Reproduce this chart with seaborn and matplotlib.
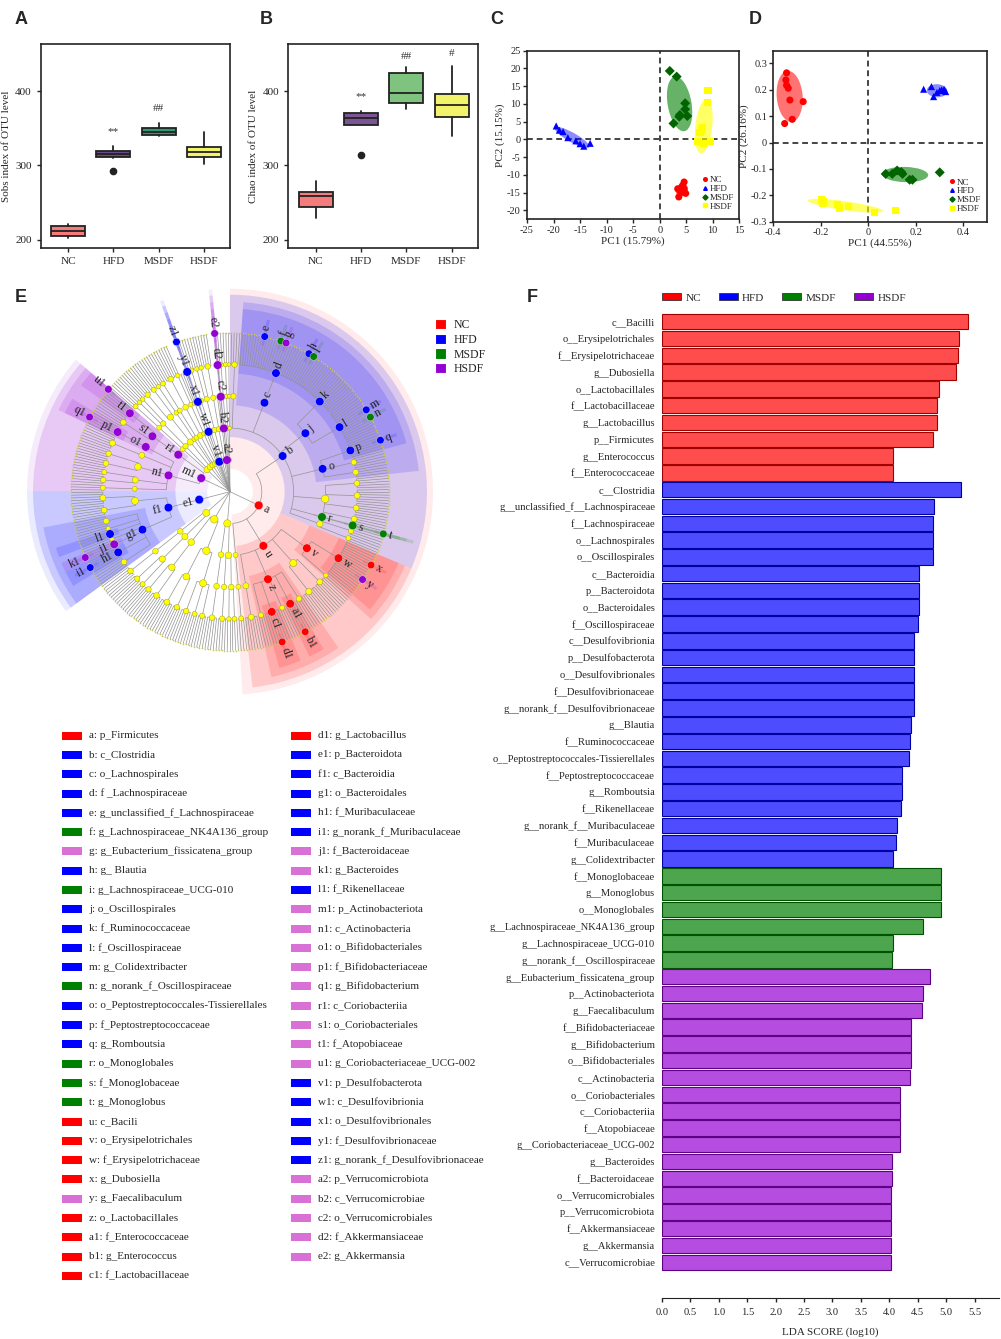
import numpy as np
import pandas as pd
import matplotlib
matplotlib.use("Agg")
import matplotlib.pyplot as plt
from matplotlib.patches import Wedge, Rectangle, Ellipse, Patch
from matplotlib.lines import Line2D
from matplotlib.collections import LineCollection
from matplotlib.ticker import FuncFormatter
import seaborn as sns

sns.set_theme(context="paper", style="ticks")
plt.rcParams["font.family"] = ["Liberation Serif", "DejaVu Serif"]
plt.rcParams["axes.unicode_minus"] = False
plt.rcParams["axes.linewidth"] = 1.2
plt.rcParams["axes.edgecolor"] = "#222222"
plt.rcParams["xtick.major.width"] = 1.0
plt.rcParams["ytick.major.width"] = 1.0
plt.rcParams["xtick.major.size"] = 3
plt.rcParams["ytick.major.size"] = 3
plt.rcParams["xtick.labelsize"] = 8
plt.rcParams["ytick.labelsize"] = 8

# ---------------- data ----------------
groups = ["NC", "HFD", "MSDF", "HSDF"]
group_colors = {"NC": "#FF0000", "HFD": "#0000FF", "MSDF": "#008000", "HSDF": "#9400D3"}

# A: Sobs index (box stats)
sobs_low = [201.8, 310.0, 340.0, 301.8]
sobs_q1 = [205.8, 311.2, 340.8, 311.2]
sobs_med = [211.7, 315.2, 345.3, 318.4]
sobs_q3 = [218.4, 319.7, 350.7, 325.1]
sobs_high = [221.5, 326.5, 356.5, 345.3]
sobs_out = [[], [292.4], [], []]
sobs_marks = ["", "**", "##", ""]
sobs_mark_y = [0, 345, 377, 0]

# B: Chao index
chao_low = [230.0, 354.3, 375.3, 339.5]
chao_q1 = [244.0, 354.3, 383.4, 365.5]
chao_med = [259.2, 363.2, 396.9, 380.7]
chao_q3 = [264.6, 370.0, 424.7, 395.5]
chao_high = [279.4, 373.0, 431.8, 434.0]
chao_out = [[], [313.5], [], []]
chao_marks = ["", "**", "##", "#"]
chao_mark_y = [0, 393, 447, 450]

# C: PCA
pca_x = {
    "NC": [4.6, 4.3, 3.4, 3.8, 4.2, 4.9, 3.6, 4.6],
    "HFD": [-19.5, -18.9, -18.2, -17.3, -15.8, -15.0, -14.3, -13.1],
    "MSDF": [1.9, 3.2, 4.8, 4.8, 3.8, 3.7, 5.2, 2.6],
    "HSDF": [9.1, 9.0, 8.1, 7.6, 7.2, 8.2, 9.5, 7.8],
}
pca_y = {
    "NC": [-12.0, -13.0, -13.9, -14.5, -14.9, -15.2, -16.2, -13.9],
    "HFD": [3.8, 2.6, 2.2, 0.5, -0.4, -1.2, -1.9, -1.1],
    "MSDF": [19.3, 17.7, 10.2, 8.5, 6.9, 6.4, 6.6, 4.5],
    "HSDF": [13.9, 10.3, 3.4, 2.0, -0.6, -1.1, -0.6, 2.8],
}

# D: PCoA
pcoa_x = {
    "NC": [-0.344, -0.347, -0.344, -0.337, -0.330, -0.274, -0.320, -0.352],
    "HFD": [0.234, 0.267, 0.276, 0.302, 0.320, 0.327, 0.290, 0.310],
    "MSDF": [0.074, 0.102, 0.122, 0.145, 0.175, 0.187, 0.302, 0.140],
    "HSDF": [-0.196, -0.192, -0.131, -0.122, -0.084, 0.028, 0.116, -0.190],
}
pcoa_y = {
    "NC": [0.264, 0.237, 0.217, 0.206, 0.161, 0.155, 0.088, 0.072],
    "HFD": [0.202, 0.212, 0.174, 0.197, 0.202, 0.193, 0.190, 0.200],
    "MSDF": [-0.119, -0.119, -0.106, -0.119, -0.141, -0.141, -0.113, -0.112],
    "HSDF": [-0.217, -0.229, -0.236, -0.248, -0.241, -0.264, -0.257, -0.225],
}

# E: cladogram taxonomy (newick-like; numbers = unlabelled leaves)
tree_phyla = [
    "a(b(_(_(4)),c(d(8,e,5,f,1,g,8,h,1,i,6)),j(k(13),l(7,m,2,n,5)),o(p(3,q,3),_(4),_(5)),"
    "_(_(5),_(6),_(5),_(5)),r(s(t)),_(_(4),_(3))),"
    "u(v(w(4,x,5,y,6),_(2)),_(_(6),_(7)),z(_(4),a1(2,b1,2),_(3),c1(3,d1,3),_(3)),_(_(6))),_(_(_(3))))",
    "_(_(_(_(3),_(2)),_(_(4))),_(_(_(5))))",
    "_(_(_(_(4),_(3),_(5)),_(_(4),_(6))),_(_(_(5),_(4))))",
    "_(_(_(_(3),_(4))),_(_(_(5))))",
    "e1(f1(g1(_(5),h1(2,i1,2),j1(1,k1,1),_(2),l1(3),_(2),_(5)),_(_(5),_(6))))",
    "m1(n1(_(_(3)),_(_(4),_(3)),_(_(5),_(4)),_(_(6)),o1(p1(2,q1,2))),r1(s1(_(5),t1(4,u1))))",
    "_(_(_(_(3))),_(_(_(2),_(2))))",
    "_(_(_(_(4),_(3))))",
    "_(_(_(_(2))),_(_(_(3))))",
    "_(_(_(_(5))))",
    "_(_(_(_(2))))",
    "_(_(_(3)))",
    "v1(w1(x1(y1(z1))))",
    "_(_(_(_(3))))",
    "_(_(_(_(2),_(2))))",
    "_(_(_(_(4))))",
    "_(_(2))",
    "a2(b2(c2(d2(e2))))",
    "_(_(_(_(2))))",
    "_(_(_(_(2))))",
    "_(_(_(_(1))))",
]

legend_codes = ["a", "b", "c", "d", "e", "f", "g", "h", "i", "j", "k", "l", "m", "n", "o",
                "p", "q", "r", "s", "t", "u", "v", "w", "x", "y", "z", "a1", "b1", "c1",
                "d1", "e1", "f1", "g1", "h1", "i1", "j1", "k1", "l1", "m1", "n1", "o1", "p1",
                "q1", "r1", "s1", "t1", "u1", "v1", "w1", "x1", "y1", "z1", "a2", "b2", "c2",
                "d2", "e2"]
legend_names = [
    "p_Firmicutes", "c_Clostridia", "o_Lachnospirales", "f _Lachnospiraceae",
    "g_unclassified_f_Lachnospiraceae", "g_Lachnospiraceae_NK4A136_group",
    "g_Eubacterium_fissicatena_group", "g_ Blautia", "g_Lachnospiraceae_UCG-010",
    "o_Oscillospirales", "f_Ruminococcaceae", "f_Oscillospiraceae", "g_Colidextribacter",
    "g_norank_f_Oscillospiraceae", "o_Peptostreptococcales-Tissierellales",
    "f_Peptostreptococcaceae", "g_Romboutsia", "o_Monoglobales", "f_Monoglobaceae",
    "g_Monoglobus", "c_Bacili", "o_Erysipelotrichales", "f_Erysipelotrichaceae",
    "g_Dubosiella", "g_Faecalibaculum", "o_Lactobacillales", "f_Enterococcaceae",
    "g_Enterococcus", "f_Lactobacillaceae",
    "g_Lactobacillus", "p_Bacteroidota", "c_Bacteroidia", "o_Bacteroidales",
    "f_Muribaculaceae", "g_norank_f_Muribaculaceae", "f_Bacteroidaceae", "g_Bacteroides",
    "f_Rikenellaceae", "p_Actinobacteriota", "c_Actinobacteria", "o_Bifidobacteriales",
    "f_Bifidobacteriaceae", "g_Bifidobacterium", "c_Coriobacteriia", "o_Coriobacteriales",
    "f_Atopobiaceae", "g_Coriobacteriaceae_UCG-002", "p_Desulfobacterota",
    "c_Desulfovibrionia", "o_Desulfovibrionales", "f_Desulfovibrionaceae",
    "g_norank_f_Desulfovibrionaceae", "p_Verrucomicrobiota", "c_Verrucomicrobiae",
    "o_Verrucomicrobiales", "f_Akkermansiaceae", "g_Akkermansia",
]
legend_groups = (["NC"] + ["HFD"] * 4 + ["MSDF", "HSDF", "HFD", "MSDF"] + ["HFD"] * 4
                 + ["MSDF"] + ["HFD"] * 3 + ["MSDF"] * 3 + ["NC"] * 4 + ["HSDF"]
                 + ["NC"] * 5 + ["HFD"] * 5 + ["HSDF"] * 2 + ["HFD"] + ["HSDF"] * 9
                 + ["HFD"] * 5 + ["HSDF"] * 5)

# F: LDA scores
lda_nc_taxa = ["c__Bacilli", "o__Erysipelotrichales", "f__Erysipelotrichaceae", "g__Dubosiella",
               "o__Lactobacillales", "f__Lactobacillaceae", "g__Lactobacillus", "p__Firmicutes",
               "g__Enterococcus", "f__Enterococcaceae"]
lda_nc_score = [5.38, 5.22, 5.21, 5.18, 4.87, 4.84, 4.84, 4.77, 4.06, 4.06]
lda_hfd_taxa = ["c__Clostridia", "g__unclassified_f__Lachnospiraceae", "f__Lachnospiraceae",
                "o__Lachnospirales", "o__Oscillospirales", "c__Bacteroidia", "p__Bacteroidota",
                "o__Bacteroidales", "f__Oscillospiraceae", "c__Desulfovibrionia",
                "p__Desulfobacterota", "o__Desulfovibrionales", "f__Desulfovibrionaceae",
                "g__norank_f__Desulfovibrionaceae", "g__Blautia", "f__Ruminococcaceae",
                "o__Peptostreptococcales-Tissierellales", "f__Peptostreptococcaceae",
                "g__Romboutsia", "f__Rikenellaceae", "g__norank_f__Muribaculaceae",
                "f__Muribaculaceae", "g__Colidextribacter"]
lda_hfd_score = [5.26, 4.79, 4.76, 4.76, 4.76, 4.52, 4.52, 4.52, 4.50, 4.43, 4.43, 4.43,
                 4.43, 4.43, 4.39, 4.37, 4.34, 4.22, 4.22, 4.20, 4.14, 4.11, 4.07]
lda_msdf_taxa = ["f__Monoglobaceae", "g__Monoglobus", "o__Monoglobales",
                 "g__Lachnospiraceae_NK4A136_group", "g__Lachnospiraceae_UCG-010",
                 "g__norank_f__Oscillospiraceae"]
lda_msdf_score = [4.91, 4.91, 4.91, 4.60, 4.06, 4.05]
lda_hsdf_taxa = ["g__Eubacterium_fissicatena_group", "p__Actinobacteriota", "g__Faecalibaculum",
                 "f__Bifidobacteriaceae", "g__Bifidobacterium", "o__Bifidobacteriales",
                 "c__Actinobacteria", "o__Coriobacteriales", "c__Coriobacteriia",
                 "f__Atopobiaceae", "g__Coriobacteriaceae_UCG-002", "g__Bacteroides",
                 "f__Bacteroidaceae", "o__Verrucomicrobiales", "p__Verrucomicrobiota",
                 "f__Akkermansiaceae", "g__Akkermansia", "c__Verrucomicrobiae"]
lda_hsdf_score = [4.71, 4.59, 4.58, 4.38, 4.38, 4.38, 4.37, 4.19, 4.19, 4.18, 4.18, 4.04,
                  4.04, 4.03, 4.03, 4.03, 4.03, 4.03]

# ---------------- figure ----------------
W, H = 1001, 1339
fig = plt.figure(figsize=(W / 100, H / 100), dpi=100)


def box(l, t, r, b):
    return [l / W, 1 - b / H, (r - l) / W, (b - t) / H]


def boxpanel(ax, low, q1, med, q3, high, out, colors, marks, mark_y, ylabel):
    stats = [dict(whislo=low[i], q1=q1[i], med=med[i], q3=q3[i], whishi=high[i],
                  fliers=out[i], label=groups[i]) for i in range(4)]
    line = dict(color="#222222", linewidth=1.3)
    bp = ax.bxp(stats, positions=range(4), widths=0.75, patch_artist=True, showcaps=False,
                boxprops=dict(edgecolor="#222222", linewidth=1.3), medianprops=line,
                whiskerprops=line,
                flierprops=dict(marker="o", markerfacecolor="#222222",
                                markeredgecolor="#222222", markersize=4.5))
    for patch, c in zip(bp["boxes"], colors):
        patch.set_facecolor(c)
    for i, (m, y) in enumerate(zip(marks, mark_y)):
        if m:
            ax.text(i, y, m, ha="center", va="center", fontsize=8, color="#333333")
    ax.set_xlim(-0.61, 3.58)
    ax.set_ylim(189, 463)
    ax.set_yticks([200, 300, 400])
    ax.set_ylabel(ylabel, fontsize=8, labelpad=3)


axA = fig.add_axes(box(40.7, 44.3, 230, 248))
boxpanel(axA, sobs_low, sobs_q1, sobs_med, sobs_q3, sobs_high, sobs_out,
         ["#F47C7C", "#6B4B8C", "#2E9C72", "#F3F36B"], sobs_marks, sobs_mark_y,
         "Sobs index of OTU level")
axB = fig.add_axes(box(288, 44.3, 478, 248))
boxpanel(axB, chao_low, chao_q1, chao_med, chao_q3, chao_high, chao_out,
         ["#F47C7C", "#7C5494", "#7EC47E", "#F3F36B"], chao_marks, chao_mark_y,
         "Chao index of OTU level")

point_colors = {"NC": "#FF0000", "HFD": "#0000FF", "MSDF": "#006400", "HSDF": "#FFFF00"}
ell_colors = {"NC": ("#FF0000", 0.55), "HFD": ("#0000FF", 0.45),
              "MSDF": ("#008000", 0.6), "HSDF": ("#FFFF00", 0.6)}
markers = {"NC": "o", "HFD": "^", "MSDF": "D", "HSDF": "s"}


def conf_ellipse(ax, x, y, color, alpha, n_std=1.4):
    cov = np.cov(x, y)
    vals, vecs = np.linalg.eigh(cov)
    order = vals.argsort()[::-1]
    vals, vecs = vals[order], vecs[:, order]
    angle = np.degrees(np.arctan2(vecs[1, 0], vecs[0, 0]))
    w, h = 2 * n_std * np.sqrt(vals)
    ax.add_patch(Ellipse((np.mean(x), np.mean(y)), w, h * 1.6, angle=angle,
                         facecolor=color, alpha=alpha, lw=0, zorder=1))


def ordination(ax, xs, ys, xlabel, ylabel):
    rows = []
    for g in groups:
        for xv, yv in zip(xs[g], ys[g]):
            rows.append((g, xv, yv))
    df = pd.DataFrame(rows, columns=["group", "x", "y"])
    for g in groups:
        conf_ellipse(ax, np.array(xs[g]), np.array(ys[g]), *ell_colors[g])
    ax.axhline(0, ls=(0, (3, 2)), color="#444444", lw=1.4, zorder=0.5)
    ax.axvline(0, ls=(0, (3, 2)), color="#444444", lw=1.4, zorder=0.5)
    sns.scatterplot(data=df, x="x", y="y", hue="group", style="group", palette=point_colors,
                    markers=markers, s=26, linewidth=0, legend=False, ax=ax, zorder=3)
    handles = [Line2D([], [], marker=markers[g], ls="", color=point_colors[g], markersize=2.6,
                      label=g) for g in groups]
    ax.legend(handles=handles, loc="lower right", bbox_to_anchor=(1.0, 0.02), frameon=False,
              fontsize=6.5, handletextpad=0.1, labelspacing=0.05, borderaxespad=0.2,
              handlelength=0.8)
    ax.set_xlabel(xlabel, fontsize=8, labelpad=1)
    ax.set_ylabel(ylabel, fontsize=8, labelpad=1)
    ax.tick_params(labelsize=7.5, pad=1.5)


axC = fig.add_axes(box(527, 50.7, 739.3, 219.3))
ordination(axC, pca_x, pca_y, "PC1 (15.79%)", "PC2 (15.15%)")
axC.set_xlim(-25, 15)
axC.set_ylim(-22.5, 25)
axC.set_xticks(range(-25, 16, 5))
axC.set_yticks(range(-20, 26, 5))

axD = fig.add_axes(box(773.3, 50.7, 986.7, 221.7))
ordination(axD, pcoa_x, pcoa_y, "PC1 (44.55%)", "PC2 (26.16%)")
axD.set_xlim(-0.4, 0.5)
axD.set_ylim(-0.3, 0.348)
axD.set_xticks([-0.4, -0.2, 0, 0.2, 0.4])
axD.set_yticks([-0.3, -0.2, -0.1, 0, 0.1, 0.2, 0.3])
fmt = FuncFormatter(lambda v, _: f"{round(v, 2):g}")
axD.xaxis.set_major_formatter(fmt)
axD.yaxis.set_major_formatter(fmt)

# ---------------- E: cladogram ----------------
code_group = dict(zip(legend_codes, legend_groups))


def parse(s):
    pos = 0

    def read():
        nonlocal pos
        start = pos
        while s[pos] not in "(),":
            pos += 1
        tok = s[start:pos]
        kids = []
        if s[pos] == "(":
            pos += 1
            while True:
                kids.extend(read())
                ch = s[pos]
                pos += 1
                if ch == ")":
                    break
        if tok.isdigit():
            return [dict(code=None, kids=[]) for _ in range(int(tok))]
        return [dict(code=None if tok in ("_", "R") else tok, kids=kids)]

    return read()[0]


root = parse("R(" + ",".join(tree_phyla) + ")")
leaves, nodes = [], []


def layout(n, depth):
    n["depth"] = depth
    nodes.append(n)
    if not n["kids"]:
        n["pos"] = n["lo"] = n["hi"] = len(leaves)
        n["nleaf"] = 1
        leaves.append(n)
        return
    for k in n["kids"]:
        layout(k, depth + 1)
    ps = [k["pos"] for k in n["kids"]]
    n["pos"] = (min(ps) + max(ps)) / 2
    n["lo"], n["hi"] = n["kids"][0]["lo"], n["kids"][-1]["hi"]
    n["nleaf"] = sum(k["nleaf"] for k in n["kids"])


layout(root, 0)
N = len(leaves)
slot = 360 / N


def ang(p):
    return 90 - (p + 0.5) * slot


def rad(d):
    return d * 31.8


axE = fig.add_axes(box(20, 281.7, 440, 701.7))
axE.set_xlim(-210, 210)
axE.set_ylim(-210, 210)
axE.set_aspect("equal")
axE.axis("off")

r_outer = {1: 203, 2: 197, 3: 190, 4: 183, 5: 176}
sig = sorted([n for n in nodes if n["code"]], key=lambda n: n["depth"])
for n in sig:
    d = n["depth"]
    t1 = ang(n["hi"]) - slot / 2
    t2 = ang(n["lo"]) + slot / 2
    r_in = rad(d) - 9
    axE.add_patch(Wedge((0, 0), r_outer[d], t1, t2, width=r_outer[d] - r_in,
                        facecolor=group_colors[code_group[n["code"]]],
                        alpha=0.08 if d == 1 else 0.14, lw=0, zorder=0))

segs = []
for n in nodes:
    if not n["kids"]:
        continue
    r0 = rad(n["depth"])
    ks = [ang(k["pos"]) for k in n["kids"]]
    if r0 > 0 and len(ks) > 1:
        th = np.radians(np.linspace(min(ks), max(ks), 40))
        segs.append(np.column_stack([r0 * np.cos(th), r0 * np.sin(th)]))
    for k, a in zip(n["kids"], ks):
        r1 = rad(k["depth"])
        t = np.radians(a)
        segs.append([(r0 * np.cos(t), r0 * np.sin(t)), (r1 * np.cos(t), r1 * np.sin(t))])
axE.add_collection(LineCollection(segs, colors="#929292", linewidths=0.5, zorder=1))

px_to_pt = 72 / 100
yx, yy, ys, sx, sy, ss, sc, tx, ty = [], [], [], [], [], [], [], [], []
for n in nodes[1:]:
    t = np.radians(ang(n["pos"]))
    r = rad(n["depth"])
    if n["code"]:
        sx.append(r * np.cos(t))
        sy.append(r * np.sin(t))
        dpx = 8.5 if n["depth"] < 5 else 7.5
        ss.append((dpx * px_to_pt) ** 2)
        sc.append(group_colors[code_group[n["code"]]])
    elif n["kids"]:
        yx.append(r * np.cos(t))
        yy.append(r * np.sin(t))
        dpx = min(7.5, 2.6 + 1.2 * np.log2(1 + n["nleaf"]))
        ys.append((dpx * px_to_pt) ** 2)
    else:
        tx.append(r * np.cos(t))
        ty.append(r * np.sin(t))
axE.scatter(tx, ty, s=(1.6 * px_to_pt) ** 2, c="#C8C850", linewidths=0, zorder=2)
axE.scatter(yx, yy, s=ys, c="#FFFF00", edgecolors="#A0A030", linewidths=0.35, zorder=2)
axE.scatter(sx, sy, s=ss, c=sc, edgecolors="#DDDDDD", linewidths=0.3, zorder=3)

for n in sig:
    a = ang(n["pos"])
    r = rad(n["depth"]) + 6
    t = np.radians(a)
    if np.cos(t) >= 0:
        rot, ha = a, "left"
    else:
        rot, ha = a + 180, "right"
    axE.text(r * np.cos(t), r * np.sin(t), n["code"], rotation=rot, ha=ha, va="center",
             rotation_mode="anchor", fontsize=8.5, zorder=4)

axE.legend(handles=[Patch(facecolor=group_colors[g], label=g) for g in groups],
           loc="upper left", bbox_to_anchor=(435 / W, 1 - 319 / H),
           bbox_transform=fig.transFigure, frameon=False, fontsize=8.5, handlelength=0.95,
           handleheight=0.95, labelspacing=0.22, handletextpad=0.6, borderaxespad=0,
           borderpad=0)

# ---------------- F: LDA bars ----------------
lda_df = pd.concat([
    pd.DataFrame({"taxon": lda_nc_taxa, "score": lda_nc_score, "group": "NC"}),
    pd.DataFrame({"taxon": lda_hfd_taxa, "score": lda_hfd_score, "group": "HFD"}),
    pd.DataFrame({"taxon": lda_msdf_taxa, "score": lda_msdf_score, "group": "MSDF"}),
    pd.DataFrame({"taxon": lda_hsdf_taxa, "score": lda_hsdf_score, "group": "HSDF"}),
], ignore_index=True)


def tint(c, a=0.7):
    rgb = np.array(matplotlib.colors.to_rgb(c))
    return tuple(rgb * a + (1 - a))


bar_face = {g: tint(group_colors[g]) for g in groups}
axF = fig.add_axes(box(662, 313.3, 999, 1298))
sns.barplot(data=lda_df, x="score", y="taxon", hue="group", palette=bar_face,
            hue_order=groups, dodge=False, width=0.92, saturation=1, legend=False, ax=axF)
for p in axF.patches:
    fc = np.array(p.get_facecolor()[:3])
    p.set_edgecolor(tuple(np.clip((fc - 0.3) * 0.9, 0, 1)))
    p.set_linewidth(0.8)
axF.set_xlim(0, 5.93)
axF.set_ylim(58.13, -0.5)
axF.set_xticks(np.arange(0, 5.6, 0.5))
axF.xaxis.set_major_formatter(FuncFormatter(lambda v, _: f"{v:.1f}"))
axF.tick_params(axis="y", length=0, pad=5, labelsize=7.6)
axF.tick_params(axis="x", labelsize=7.6, pad=4)
axF.set_ylabel("")
axF.set_xlabel("LDA SCORE (log10)", fontsize=8, labelpad=8)
for side in ("top", "right", "left"):
    axF.spines[side].set_visible(False)
axF.spines["bottom"].set_linewidth(0.8)

fig.legend(handles=[Patch(facecolor=group_colors[g], edgecolor="#333333", lw=0.6, label=g)
                    for g in groups],
           loc="center", bbox_to_anchor=(784 / W, 1 - 298 / H), ncol=4, frameon=False,
           fontsize=8, handlelength=1.7, handleheight=0.55, columnspacing=1.6,
           handletextpad=0.4)

# ---------------- overlay: panel letters, label legend ----------------
ov = fig.add_axes([0, 0, 1, 1], zorder=-1)
ov.set_xlim(0, W)
ov.set_ylim(H, 0)
ov.axis("off")
for letter, x, y in [("A", 15, 20), ("B", 260, 20), ("C", 490, 20), ("D", 749, 20),
                     ("E", 15, 297), ("F", 527, 297)]:
    ov.text(x, y, letter, fontsize=13, fontweight="bold", family="Liberation Sans",
            ha="left", va="center")

label_fill = {"NC": "#FF0000", "HFD": "#0000FF", "MSDF": "#008000", "HSDF": "#D870D6"}
for i, (c, nm, g) in enumerate(zip(legend_codes, legend_names, legend_groups)):
    col, row = (0, i) if i < 29 else (1, i - 29)
    x0 = 62 if col == 0 else 291
    y = 735.7 + row * 19.29
    ov.add_patch(Rectangle((x0, y - 4), 20, 8, facecolor=label_fill[g], lw=0))
    ov.text(x0 + 27, y, f"{c}: {nm}", fontsize=8, va="center", ha="left")

fig.savefig("out.png", dpi=100)
